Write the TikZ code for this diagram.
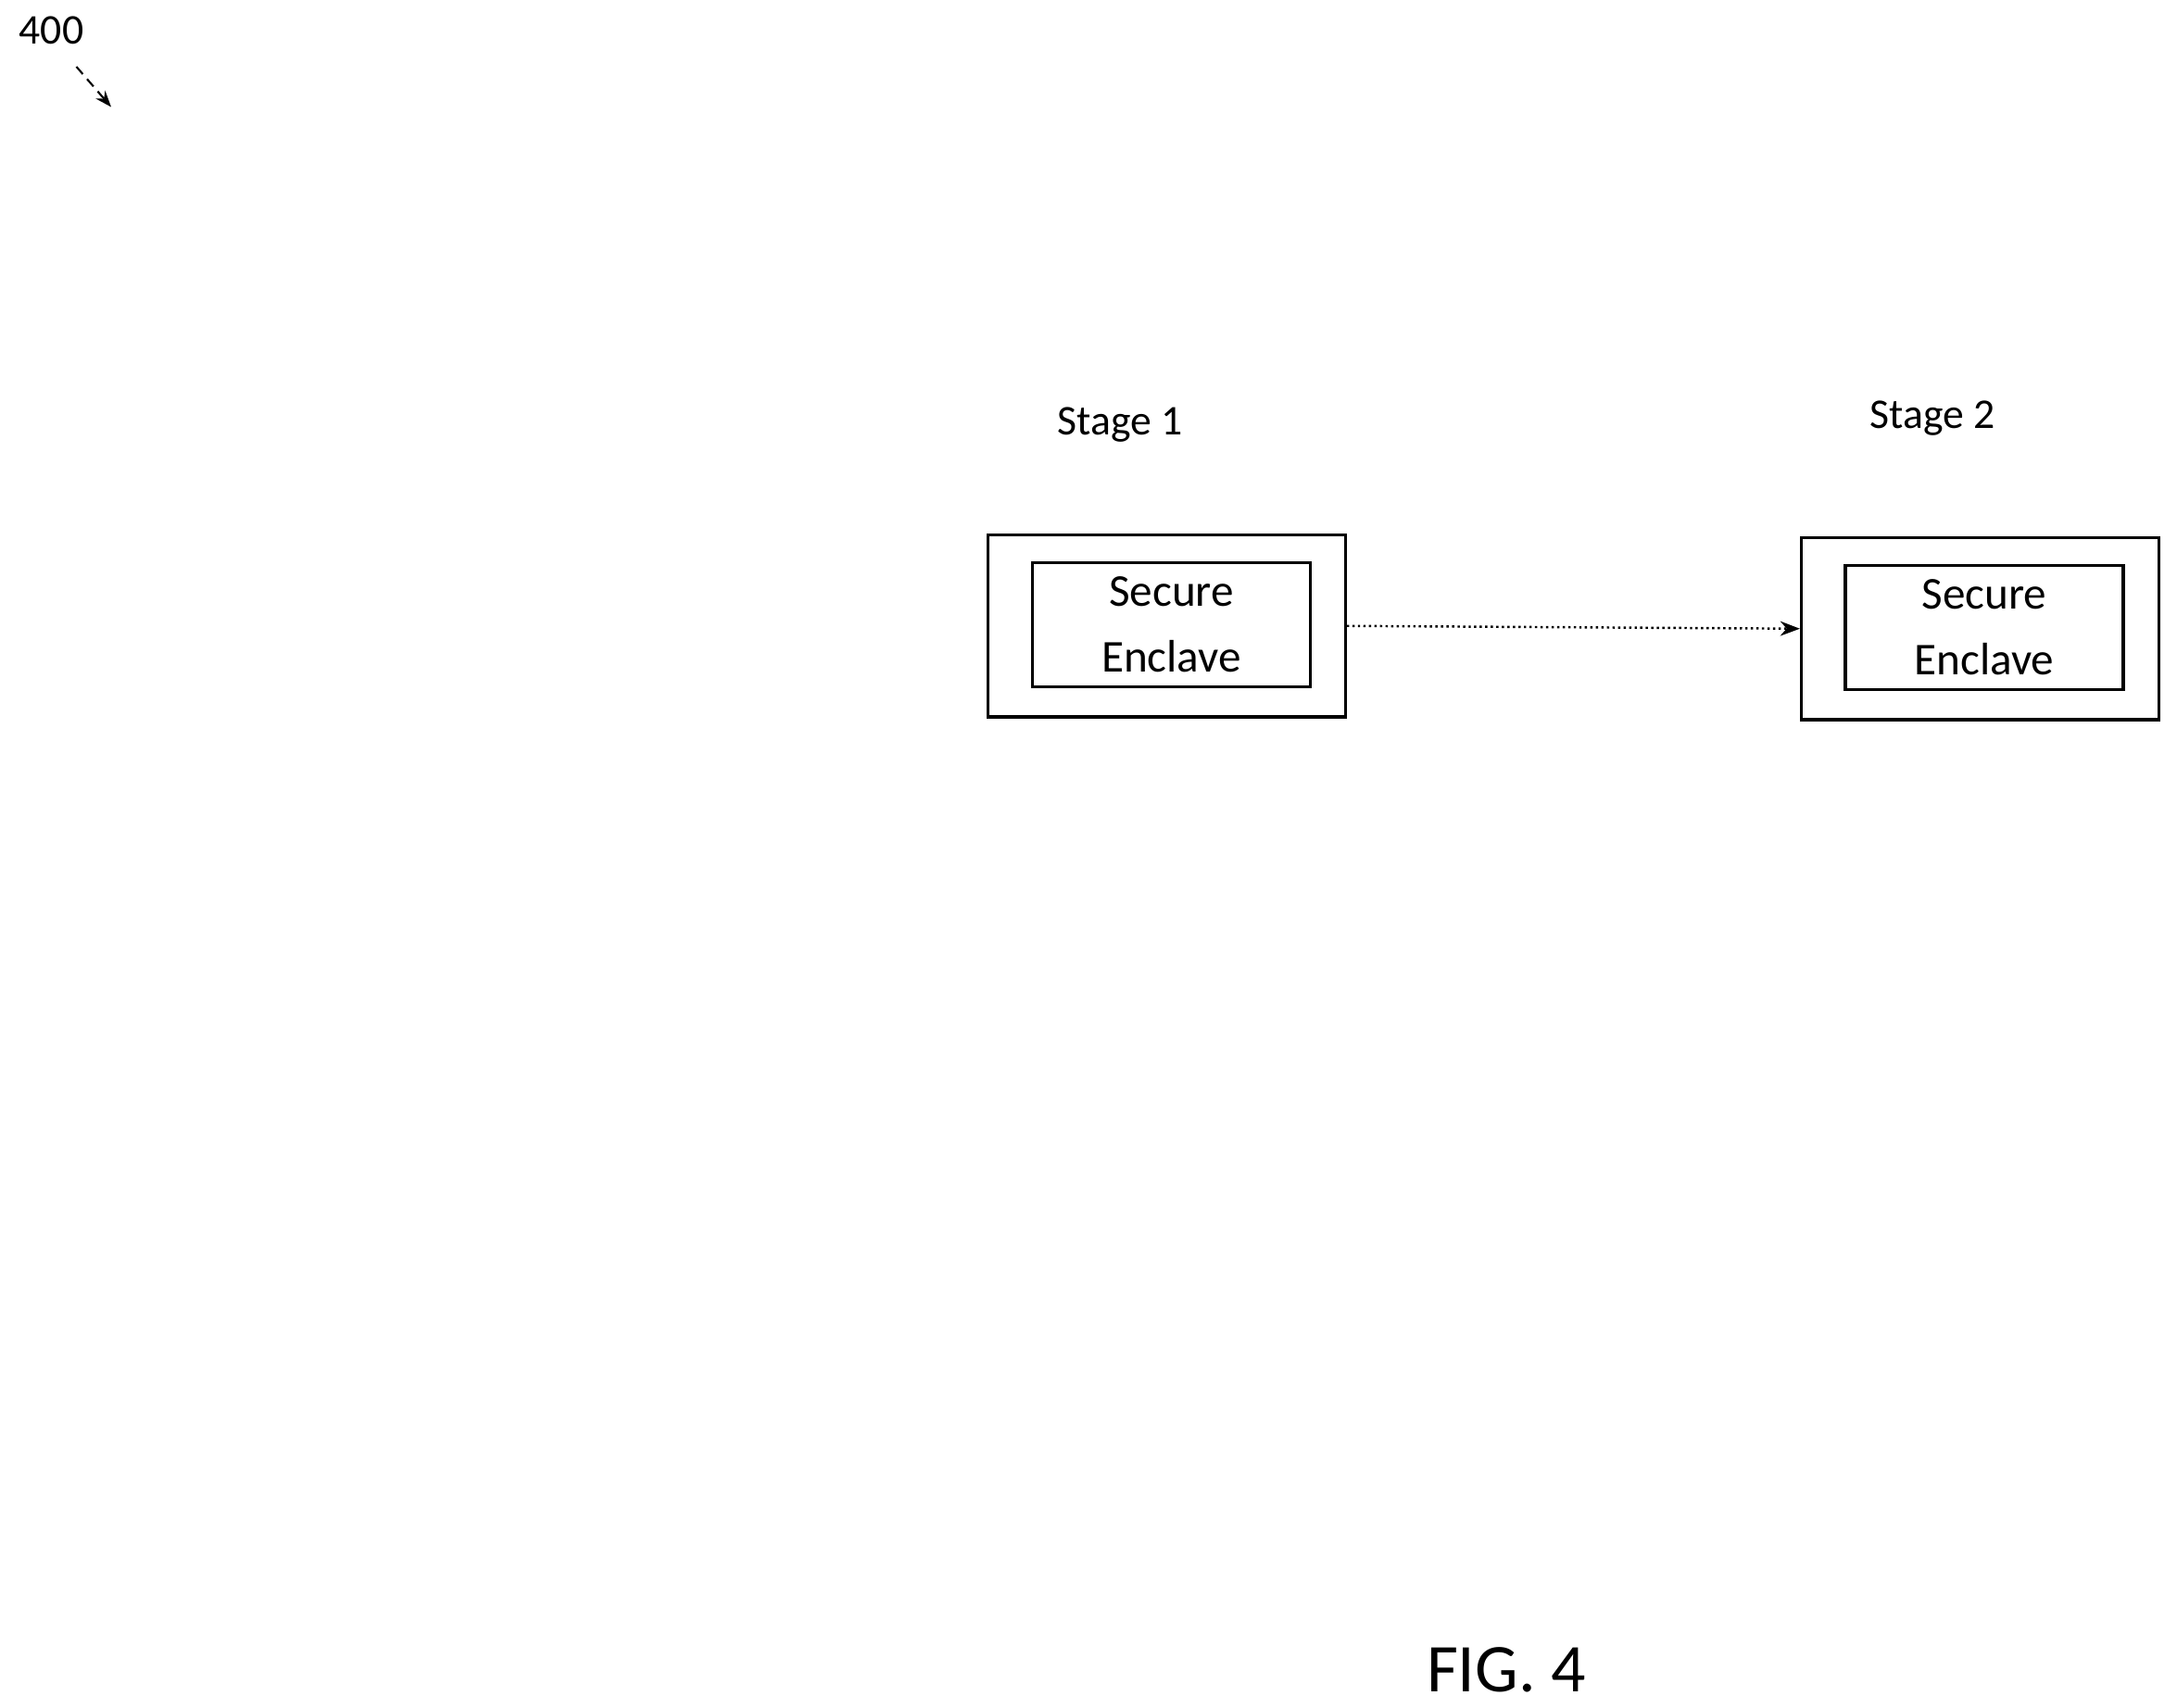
\documentclass[tikz,border=0pt]{standalone}
\usepackage{fontspec}
\setmainfont{Carlito}
\usetikzlibrary{arrows.meta}
\begin{document}
\begin{tikzpicture}[x=0.015cm,y=-0.015cm,
  lbl/.style={font=\fontsize{13}{15}\selectfont},
  outerbox/.style={draw,line width=0.9pt,minimum width=3.86cm,minimum height=1.965cm},
  innerbox/.style={draw,line width=0.9pt,minimum width=3.0cm,minimum height=1.34cm,align=center,font=\fontsize{14}{20}\selectfont}]
\useasboundingbox (0,0) rectangle (1566.7,1228.7);
\node[lbl] (ref) at (37,22) {400};
\coordinate (a1) at (55,48);
\coordinate (a2) at (80,77);
\draw[-{Stealth[length=5pt]},densely dashed,line width=0.6pt] (a1) -- (a2);
\node[lbl] (s1) at (806,306) {Stage 1};
\node[lbl] (s2) at (1391,301) {Stage 2};
\node[outerbox] (o1) at (839.5,450.5) {};
\node[innerbox] (i1) at (843,449.5) {Secure\\Enclave};
\node[outerbox] (o2) at (1425,452.5) {};
\node[innerbox] (i2) at (1428,451.5) {Secure\\Enclave};
\draw[-{Stealth[length=6pt]},densely dotted,line width=0.7pt] (o1.east) -- (o2.west);
\node[font=\fontsize{21}{24}\selectfont] (fig) at (1084,1202) {FIG. 4};
\end{tikzpicture}
\end{document}
